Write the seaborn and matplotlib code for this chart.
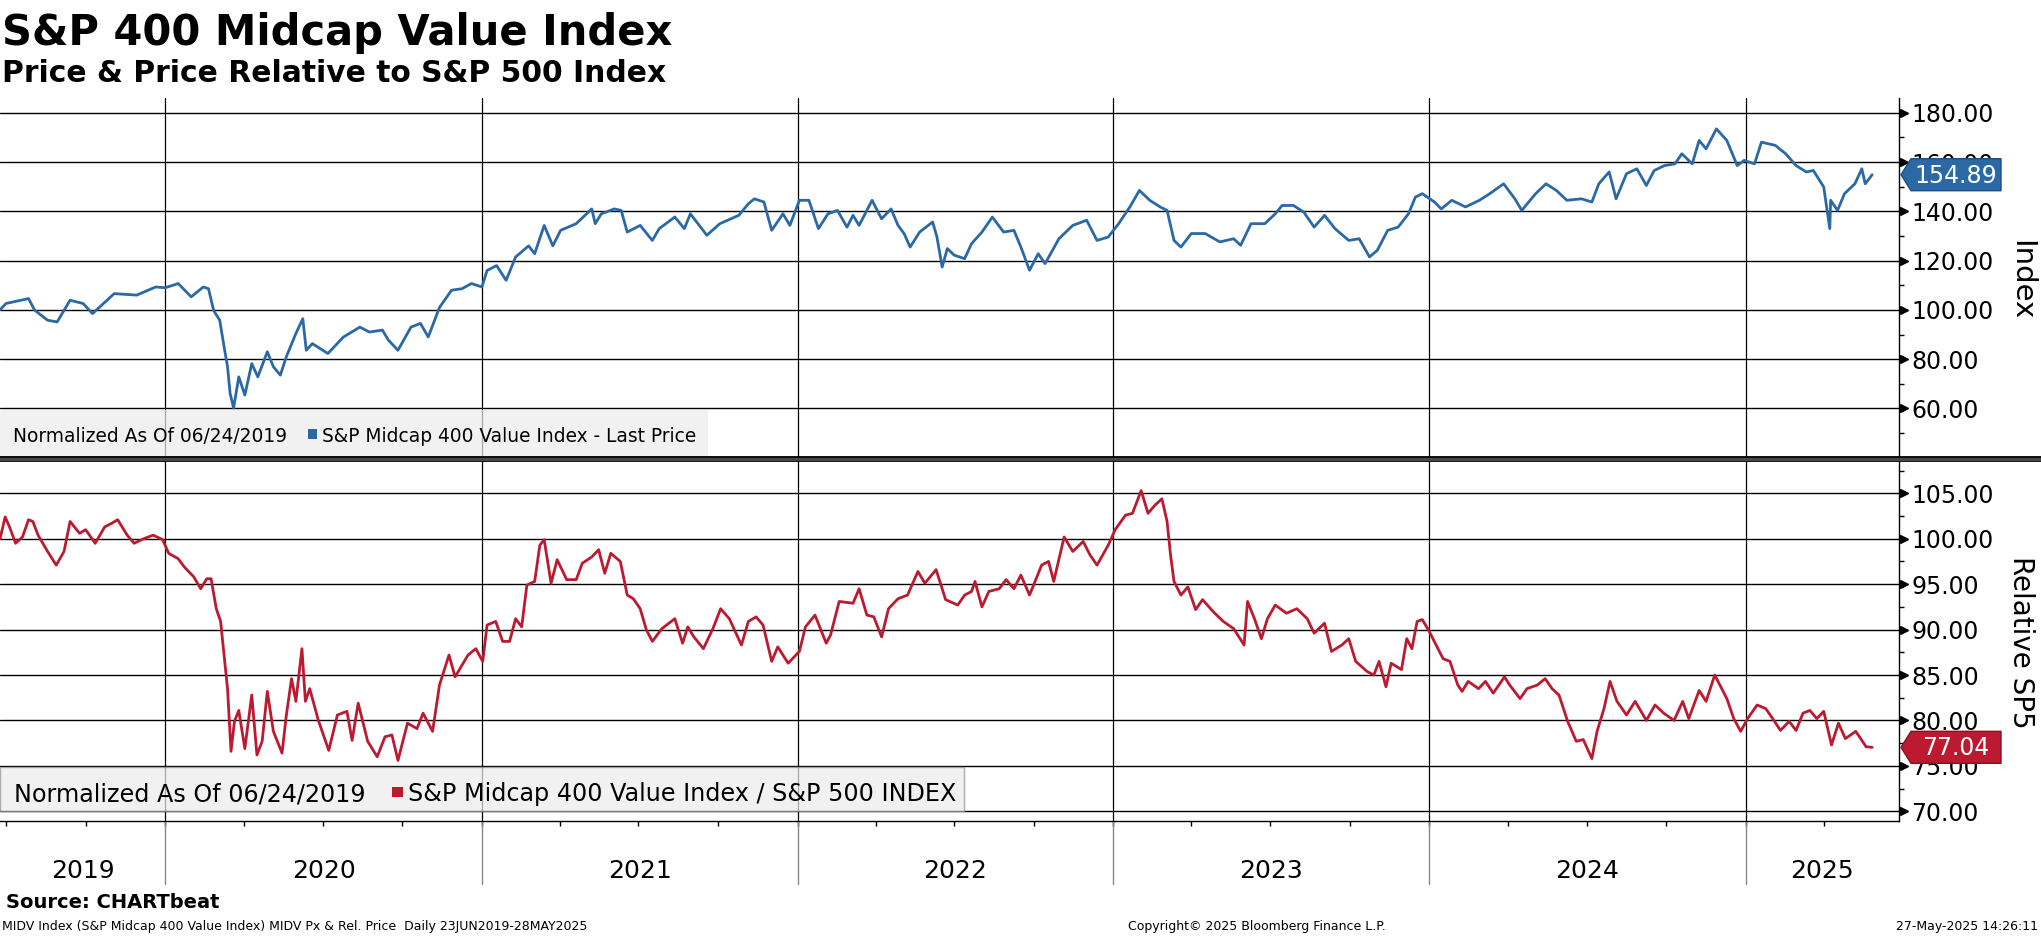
import pandas as pd
import seaborn as sns
import matplotlib.pyplot as plt
import matplotlib.dates as mdates
from matplotlib.patches import Rectangle, Polygon
from matplotlib.lines import Line2D
from matplotlib.ticker import FixedLocator, NullFormatter, FuncFormatter
from matplotlib.transforms import IdentityTransform, blended_transform_factory

# ---- data ----
price_dates = [
    "2019-06-24", "2019-07-01", "2019-07-27", "2019-08-03", "2019-08-18", "2019-08-29",
    "2019-09-13", "2019-09-28", "2019-10-09", "2019-11-03", "2019-11-29", "2019-12-21",
    "2020-01-01", "2020-01-16", "2020-01-31", "2020-02-14", "2020-02-20", "2020-02-26",
    "2020-03-04", "2020-03-09", "2020-03-13", "2020-03-16", "2020-03-20", "2020-03-26",
    "2020-04-02", "2020-04-10", "2020-04-17", "2020-04-28", "2020-05-05", "2020-05-13",
    "2020-05-20", "2020-05-31", "2020-06-08", "2020-06-12", "2020-06-19", "2020-07-07",
    "2020-07-25", "2020-08-13", "2020-08-24", "2020-09-08", "2020-09-15", "2020-09-26",
    "2020-10-11", "2020-10-22", "2020-10-31", "2020-11-13", "2020-11-27", "2020-12-09",
    "2020-12-20", "2021-01-01", "2021-01-07", "2021-01-18", "2021-01-29", "2021-02-09",
    "2021-02-24", "2021-03-03", "2021-03-14", "2021-03-24", "2021-04-02", "2021-04-20",
    "2021-05-08", "2021-05-12", "2021-05-19", "2021-06-03", "2021-06-11", "2021-06-18",
    "2021-07-03", "2021-07-17", "2021-07-25", "2021-08-12", "2021-08-23", "2021-08-30",
    "2021-09-18", "2021-10-03", "2021-10-25", "2021-11-05", "2021-11-12", "2021-11-23",
    "2021-12-02", "2021-12-15", "2021-12-23", "2022-01-03", "2022-01-14", "2022-01-25",
    "2022-02-05", "2022-02-16", "2022-02-27", "2022-03-06", "2022-03-13", "2022-03-28",
    "2022-04-08", "2022-04-19", "2022-04-27", "2022-05-04", "2022-05-11", "2022-05-22",
    "2022-06-06", "2022-06-11", "2022-06-17", "2022-06-23", "2022-07-01", "2022-07-13",
    "2022-07-21", "2022-08-02", "2022-08-14", "2022-08-27", "2022-09-08", "2022-09-16",
    "2022-09-26", "2022-10-06", "2022-10-14", "2022-10-30", "2022-11-15", "2022-12-01",
    "2022-12-13", "2022-12-26", "2023-01-07", "2023-01-20", "2023-01-31", "2023-02-12",
    "2023-02-24", "2023-03-04", "2023-03-12", "2023-03-20", "2023-04-01", "2023-04-17",
    "2023-05-04", "2023-05-20", "2023-05-28", "2023-06-09", "2023-06-25", "2023-07-07",
    "2023-07-15", "2023-07-28", "2023-08-09", "2023-08-21", "2023-09-02", "2023-09-14",
    "2023-09-30", "2023-10-12", "2023-10-24", "2023-11-02", "2023-11-14", "2023-11-26",
    "2023-12-08", "2023-12-16", "2023-12-24", "2024-01-07", "2024-01-15", "2024-01-27",
    "2024-02-12", "2024-02-28", "2024-03-11", "2024-03-27", "2024-04-09", "2024-04-17",
    "2024-05-03", "2024-05-15", "2024-05-27", "2024-06-08", "2024-06-25", "2024-07-07",
    "2024-07-15", "2024-07-27", "2024-08-04", "2024-08-16", "2024-08-28", "2024-09-08",
    "2024-09-17", "2024-09-29", "2024-10-11", "2024-10-19", "2024-10-31", "2024-11-08",
    "2024-11-16", "2024-11-28", "2024-12-10", "2024-12-22", "2024-12-30", "2025-01-11",
    "2025-01-19", "2025-02-04", "2025-02-16", "2025-02-28", "2025-03-12", "2025-03-20",
    "2025-04-01", "2025-04-08", "2025-04-09", "2025-04-17", "2025-04-25", "2025-05-07",
    "2025-05-15", "2025-05-19", "2025-05-27",
]
price_vals = [
    100.0, 102.6, 104.6, 99.9, 95.8, 95.1,
    103.9, 102.6, 98.5, 106.6, 106.0, 109.3,
    109.0, 110.7, 105.3, 109.3, 108.6, 99.7,
    95.8, 85.0, 76.9, 66.0, 60.2, 72.8,
    65.4, 78.2, 72.8, 83.0, 76.9, 73.5,
    81.0, 90.4, 96.4, 83.6, 86.3, 82.3,
    89.0, 93.0, 91.0, 91.8, 87.7, 83.6,
    93.0, 94.5, 89.0, 101.0, 108.0, 108.6,
    110.7, 109.3, 116.0, 118.0, 112.0, 121.5,
    126.0, 122.8, 134.3, 126.0, 132.3, 135.0,
    141.0, 135.0, 139.0, 141.0, 140.4, 131.6,
    134.3, 128.2, 133.0, 137.7, 133.0, 139.0,
    130.3, 135.0, 138.4, 143.1, 145.1, 143.8,
    132.3, 139.0, 134.3, 144.5, 144.5, 133.0,
    139.0, 140.4, 133.6, 138.4, 134.3, 144.5,
    137.0, 141.0, 134.3, 131.0, 125.5, 131.6,
    135.7, 129.6, 117.4, 124.9, 122.2, 120.8,
    126.9, 131.6, 137.7, 131.6, 132.3, 125.5,
    116.1, 122.8, 118.8, 128.9, 134.3, 136.4,
    128.2, 129.6, 135.0, 141.8, 148.5, 144.5,
    141.8, 140.4, 128.2, 125.5, 131.0, 131.0,
    127.6, 128.9, 126.2, 135.0, 135.0, 139.0,
    142.4, 142.4, 139.7, 133.6, 138.4, 133.0,
    128.2, 128.9, 121.5, 124.2, 132.3, 133.6,
    139.0, 145.8, 147.2, 143.8, 141.0, 144.5,
    141.8, 144.5, 147.2, 151.2, 145.1, 140.4,
    147.2, 151.2, 148.5, 144.5, 145.1, 143.8,
    151.2, 156.0, 145.1, 155.3, 157.3, 150.5,
    156.6, 158.6, 159.3, 163.4, 159.3, 168.8,
    165.4, 173.5, 168.8, 158.6, 160.7, 159.3,
    168.1, 166.8, 163.4, 158.6, 156.0, 156.6,
    149.9, 133.0, 144.5, 140.4, 147.2, 151.2,
    157.3, 151.2, 154.89,
]

rel_dates = [
    "2019-06-24", "2019-06-30", "2019-07-05", "2019-07-12", "2019-07-20", "2019-07-27",
    "2019-08-01", "2019-08-07", "2019-08-18", "2019-08-28", "2019-09-06", "2019-09-13",
    "2019-09-24", "2019-10-01", "2019-10-12", "2019-10-23", "2019-10-31", "2019-11-07",
    "2019-11-18", "2019-11-26", "2019-12-07", "2019-12-18", "2019-12-29", "2020-01-05",
    "2020-01-16", "2020-01-23", "2020-02-03", "2020-02-11", "2020-02-18", "2020-02-23",
    "2020-02-29", "2020-03-05", "2020-03-09", "2020-03-13", "2020-03-17", "2020-03-21",
    "2020-03-26", "2020-04-02", "2020-04-10", "2020-04-16", "2020-04-22", "2020-04-28",
    "2020-05-05", "2020-05-15", "2020-05-20", "2020-05-26", "2020-05-31", "2020-06-07",
    "2020-06-11", "2020-06-16", "2020-06-26", "2020-07-08", "2020-07-18", "2020-07-29",
    "2020-08-04", "2020-08-11", "2020-08-22", "2020-09-02", "2020-09-11", "2020-09-19",
    "2020-09-26", "2020-10-07", "2020-10-18", "2020-10-25", "2020-11-05", "2020-11-13",
    "2020-11-24", "2020-12-01", "2020-12-16", "2020-12-25", "2021-01-02", "2021-01-07",
    "2021-01-17", "2021-01-25", "2021-02-02", "2021-02-09", "2021-02-16", "2021-02-22",
    "2021-03-03", "2021-03-09", "2021-03-14", "2021-03-22", "2021-03-29", "2021-04-09",
    "2021-04-20", "2021-04-27", "2021-05-08", "2021-05-16", "2021-05-23", "2021-05-30",
    "2021-06-10", "2021-06-18", "2021-06-25", "2021-07-03", "2021-07-10", "2021-07-17",
    "2021-07-28", "2021-08-12", "2021-08-21", "2021-08-27", "2021-09-03", "2021-09-14",
    "2021-09-25", "2021-10-04", "2021-10-14", "2021-10-28", "2021-11-05", "2021-11-14",
    "2021-11-22", "2021-12-02", "2021-12-09", "2021-12-21", "2022-01-03", "2022-01-10",
    "2022-01-21", "2022-02-03", "2022-02-08", "2022-02-18", "2022-03-06", "2022-03-13",
    "2022-03-22", "2022-03-30", "2022-04-08", "2022-04-16", "2022-04-27", "2022-05-08",
    "2022-05-20", "2022-05-28", "2022-06-10", "2022-06-21", "2022-07-05", "2022-07-13",
    "2022-07-21", "2022-07-25", "2022-08-02", "2022-08-10", "2022-08-22", "2022-08-30",
    "2022-09-08", "2022-09-16", "2022-09-26", "2022-10-10", "2022-10-18", "2022-10-24",
    "2022-11-05", "2022-11-15", "2022-11-27", "2022-12-05", "2022-12-13", "2022-12-26",
    "2023-01-03", "2023-01-15", "2023-01-23", "2023-02-02", "2023-02-10", "2023-02-18",
    "2023-02-26", "2023-03-04", "2023-03-08", "2023-03-12", "2023-03-20", "2023-03-28",
    "2023-04-06", "2023-04-14", "2023-04-26", "2023-05-08", "2023-05-20", "2023-06-01",
    "2023-06-05", "2023-06-13", "2023-06-21", "2023-06-28", "2023-07-07", "2023-07-20",
    "2023-08-01", "2023-08-13", "2023-08-21", "2023-09-02", "2023-09-10", "2023-09-22",
    "2023-09-30", "2023-10-08", "2023-10-21", "2023-10-29", "2023-11-04", "2023-11-12",
    "2023-11-18", "2023-11-30", "2023-12-06", "2023-12-12", "2023-12-18", "2023-12-24",
    "2024-01-01", "2024-01-09", "2024-01-17", "2024-01-25", "2024-02-03", "2024-02-08",
    "2024-02-15", "2024-02-27", "2024-03-06", "2024-03-15", "2024-03-28", "2024-04-03",
    "2024-04-15", "2024-04-23", "2024-05-05", "2024-05-14", "2024-05-22", "2024-05-30",
    "2024-06-09", "2024-06-19", "2024-06-27", "2024-07-07", "2024-07-13", "2024-07-21",
    "2024-07-28", "2024-08-05", "2024-08-16", "2024-08-26", "2024-09-08", "2024-09-18",
    "2024-09-28", "2024-10-10", "2024-10-20", "2024-10-27", "2024-11-08", "2024-11-16",
    "2024-11-26", "2024-12-10", "2024-12-18", "2024-12-26", "2025-01-03", "2025-01-14",
    "2025-01-24", "2025-02-01", "2025-02-10", "2025-02-20", "2025-02-28", "2025-03-08",
    "2025-03-16", "2025-03-24", "2025-04-01", "2025-04-10", "2025-04-18", "2025-04-26",
    "2025-05-08", "2025-05-20", "2025-05-27",
]
rel_vals = [
    100.0, 102.4, 101.3, 99.5, 100.2, 102.1,
    101.9, 100.4, 98.6, 97.1, 98.6, 101.9,
    100.6, 101.0, 99.5, 101.3, 101.7, 102.1,
    100.4, 99.5, 100.0, 100.4, 99.9, 98.4,
    97.8, 96.9, 95.8, 94.5, 95.6, 95.6,
    92.3, 90.9, 87.2, 83.5, 76.6, 79.9,
    81.1, 76.9, 82.8, 76.2, 77.7, 83.2,
    78.8, 76.4, 80.6, 84.6, 82.1, 87.9,
    82.1, 83.5, 80.0, 76.7, 80.6, 81.0,
    77.8, 81.9, 77.7, 76.0, 78.2, 78.4,
    75.6, 79.7, 79.1, 80.8, 78.8, 83.9,
    87.2, 84.8, 87.2, 87.9, 86.5, 90.5,
    90.9, 88.7, 88.7, 91.2, 90.3, 94.9,
    95.3, 99.3, 99.9, 95.1, 97.7, 95.5,
    95.5, 97.3, 98.0, 98.8, 96.2, 98.4,
    97.5, 93.8, 93.4, 92.3, 90.0, 88.7,
    90.1, 91.2, 88.5, 90.3, 89.2, 87.9,
    90.1, 92.3, 91.2, 88.3, 90.9, 91.4,
    90.5, 86.5, 88.1, 86.3, 87.6, 90.3,
    91.6, 88.5, 89.4, 93.1, 92.9, 94.5,
    91.6, 91.4, 89.2, 92.3, 93.4, 93.8,
    96.4, 95.1, 96.6, 93.3, 92.7, 93.8,
    94.2, 95.3, 92.5, 94.2, 94.5, 95.5,
    94.5, 96.0, 93.8, 97.1, 97.5, 95.3,
    100.2, 98.6, 99.7, 98.2, 97.1, 99.3,
    101.0, 102.6, 102.8, 105.3, 102.8, 103.7,
    104.4, 101.9, 98.2, 95.3, 93.8, 94.7,
    92.2, 93.3, 92.0, 90.9, 90.1, 88.3,
    93.1, 91.2, 89.0, 91.2, 92.7, 91.8,
    92.3, 91.2, 89.6, 90.7, 87.6, 88.3,
    89.0, 86.5, 85.4, 85.0, 86.5, 83.7,
    86.3, 85.6, 89.0, 87.9, 90.9, 91.1,
    89.8, 88.3, 86.8, 86.5, 83.9, 83.2,
    84.3, 83.5, 84.3, 83.0, 84.8, 83.9,
    82.4, 83.5, 83.9, 84.6, 83.5, 82.8,
    79.9, 77.7, 77.9, 75.8, 78.8, 81.3,
    84.3, 82.1, 80.6, 82.1, 80.0, 81.7,
    80.8, 80.0, 82.1, 80.2, 83.3, 82.1,
    85.0, 82.4, 80.2, 78.8, 80.2, 81.7,
    81.3, 80.2, 78.9, 79.9, 78.9, 80.8,
    81.1, 80.2, 81.0, 77.3, 79.7, 78.0,
    78.8, 77.1, 77.04,
]

price_ticks = [60, 80, 100, 120, 140, 160, 180]
rel_ticks = [70, 75, 80, 85, 90, 95, 100, 105]
year_labels = ["2019", "2020", "2021", "2022", "2023", "2024", "2025"]

BLUE = "#2b69a6"
RED = "#bc1a30"
W, H = 2041, 936


def fx(x):
    return x / W


def fy(y):
    return 1 - y / H


sns.set_theme(style="white")
plt.rcParams["font.family"] = ["DejaVu Sans"]
plt.rcParams["text.color"] = "black"
plt.rcParams["ytick.color"] = "black"
plt.rcParams["xtick.color"] = "black"

fig = plt.figure(figsize=(W / 100, H / 100), dpi=100)
ax1 = fig.add_axes([0, fy(459), fx(1899), (459 - 97.6) / H])
ax2 = fig.add_axes([0, fy(821), fx(1899), (821 - 459) / H], sharex=ax1)

df_price = pd.DataFrame({"date": pd.to_datetime(price_dates), "value": price_vals})
df_rel = pd.DataFrame({"date": pd.to_datetime(rel_dates), "value": rel_vals})

sns.lineplot(data=df_price, x="date", y="value", ax=ax1, color=BLUE, linewidth=2.0)
sns.lineplot(data=df_rel, x="date", y="value", ax=ax2, color=RED, linewidth=2.0)

ax1.set_xlim(pd.Timestamp("2019-06-24"), pd.Timestamp("2025-06-27"))
ax1.set_ylim(39.45, 186.2)
ax2.set_ylim(68.93, 108.78)

jan1 = [pd.Timestamp(f"{y}-01-01") for y in range(2020, 2026)]

for ax, ticks, minors in [
    (ax1, price_ticks, [50, 70, 90, 110, 130, 150, 170]),
    (ax2, rel_ticks, [72.5, 77.5, 82.5, 87.5, 92.5, 97.5, 102.5, 107.5]),
]:
    ax.set_xlabel("")
    ax.set_ylabel("")
    ax.yaxis.tick_right()
    ax.yaxis.set_major_locator(FixedLocator(ticks))
    ax.yaxis.set_minor_locator(FixedLocator(minors))
    ax.yaxis.set_major_formatter(FuncFormatter(lambda v, p: f"{v:.2f}"))
    ax.tick_params(axis="y", which="major", length=0, pad=9, labelsize=17,
                   labelcolor="black", right=True, left=False)
    ax.tick_params(axis="y", which="minor", length=3.4, width=1, color="black",
                   direction="out", right=True, left=False)
    ax.grid(False)
    for t in ticks:
        ax.axhline(t, color="black", lw=1.0, zorder=1)
    for d in jan1:
        ax.axvline(d, color="black", lw=0.9, zorder=1)
    for s in ["top", "left"]:
        ax.spines[s].set_visible(False)
    ax.spines["right"].set_color("black")
    ax.spines["right"].set_linewidth(1.0)
    tri = blended_transform_factory(ax.transAxes, ax.transData)
    ax.plot([1.0025] * len(ticks), ticks, ls="none", marker=">", ms=6,
            color="black", transform=tri, clip_on=False)
    ax.set_facecolor("white")

ax1.spines["bottom"].set_visible(False)
ax1.tick_params(axis="x", which="both", bottom=False, labelbottom=False)

ax2.spines["bottom"].set_color("black")
ax2.spines["bottom"].set_linewidth(1.0)
ax2.xaxis.set_major_locator(mdates.MonthLocator(bymonth=[1, 4, 7, 10]))
ax2.xaxis.set_major_formatter(NullFormatter())
ax2.tick_params(axis="x", which="major", direction="out", length=3.6, width=1,
                color="black", bottom=True)
for d in jan1:
    ax2.axvline(d, ymin=-63 / 362, ymax=0, color="#8a8a8a", lw=1.0, clip_on=False)

# year labels centred on the visible part of each year
x_lo, x_hi = ax2.get_xlim()
ytrans = blended_transform_factory(ax2.transData, fig.transFigure)
for lab in year_labels:
    y = int(lab)
    s = max(mdates.date2num(pd.Timestamp(f"{y}-01-01")), x_lo)
    e = min(mdates.date2num(pd.Timestamp(f"{y + 1}-01-01")), x_hi)
    ax2.text((s + e) / 2, fy(878), lab, transform=ytrans, ha="center",
             va="baseline", fontsize=18, color="black")

# axis titles on the right
fig.text(fx(2021), fy(280), "Index", rotation=270, ha="center", va="center", fontsize=21)
fig.text(fx(2021), fy(642), "Relative SP5", rotation=270, ha="center", va="center", fontsize=20)

# legend boxes
fig.add_artist(Rectangle((0, fy(458)), fx(708), 48 / H, transform=fig.transFigure,
                         facecolor="#ececec", alpha=0.7, edgecolor="none", zorder=2))
fig.text(fx(13), fy(442), "Normalized As Of 06/24/2019", fontsize=13.4, va="baseline", zorder=3)
fig.add_artist(Rectangle((fx(308), fy(439)), 9 / W, 10 / H, transform=fig.transFigure,
                         facecolor=BLUE, edgecolor="none", zorder=3))
fig.text(fx(322), fy(442), "S&P Midcap 400 Value Index - Last Price", fontsize=13.4,
         va="baseline", zorder=3)

fig.add_artist(Rectangle((0, fy(811)), fx(964), 44.3 / H, transform=fig.transFigure,
                         facecolor="#ececec", alpha=0.7, edgecolor="#8c8c8c", lw=1, zorder=2))
fig.text(fx(14), fy(801.5), "Normalized As Of 06/24/2019", fontsize=17.2, va="baseline", zorder=3)
fig.add_artist(Rectangle((fx(392), fy(796.5)), 11 / W, 10 / H, transform=fig.transFigure,
                         facecolor=RED, edgecolor="none", zorder=3))
fig.text(fx(408), fy(801.5), "S&P Midcap 400 Value Index / S&P 500 INDEX", fontsize=17.2,
         va="baseline", zorder=3)

# divider between the panels
fig.add_artist(Line2D([0, 1], [fy(459)] * 2, transform=fig.transFigure, color="black", lw=4.2, zorder=4))
fig.add_artist(Line2D([0, 1], [fy(459)] * 2, transform=fig.transFigure, color="#474747", lw=2.4, zorder=4))

# last value tags
for ax, df, col, edge in [(ax1, df_price, BLUE, "#1f4f80"), (ax2, df_rel, RED, "#8a1020")]:
    last_d, last_v = df["date"].iloc[-1], df["value"].iloc[-1]
    x0 = ax.transAxes.transform((1, 0))[0]
    y0 = ax.transData.transform((mdates.date2num(last_d), last_v))[1]
    verts = [(x0 + 2, y0), (x0 + 12, y0 + 16), (x0 + 102, y0 + 16),
             (x0 + 102, y0 - 16), (x0 + 12, y0 - 16)]
    fig.add_artist(Polygon(verts, closed=True, transform=IdentityTransform(),
                           facecolor=col, edgecolor=edge, lw=1, zorder=5))
    fig.text(x0 + 57, y0 - 1, f"{last_v:.2f}", transform=IdentityTransform(), ha="center",
             va="center", fontsize=17, color="white", zorder=6)

# titles and footer
fig.text(fx(2), fy(45), "S&P 400 Midcap Value Index", fontsize=30, fontweight="bold", va="baseline")
fig.text(fx(2), fy(82), "Price & Price Relative to S&P 500 Index", fontsize=21.4,
         fontweight="bold", va="baseline")
fig.text(fx(6), fy(908), "Source: CHARTbeat", fontsize=14, fontweight="bold", va="baseline")
fig.text(fx(2), fy(930), "MIDV Index (S&P Midcap 400 Value Index) MIDV Px & Rel. Price  Daily 23JUN2019-28MAY2025",
         fontsize=9, va="baseline")
fig.text(fx(1128), fy(930), "Copyright\u00a9 2025 Bloomberg Finance L.P.", fontsize=9, va="baseline")
fig.text(fx(2038), fy(930), "27-May-2025 14:26:11", fontsize=9, va="baseline", ha="right")

fig.savefig("out.png", dpi=100)
